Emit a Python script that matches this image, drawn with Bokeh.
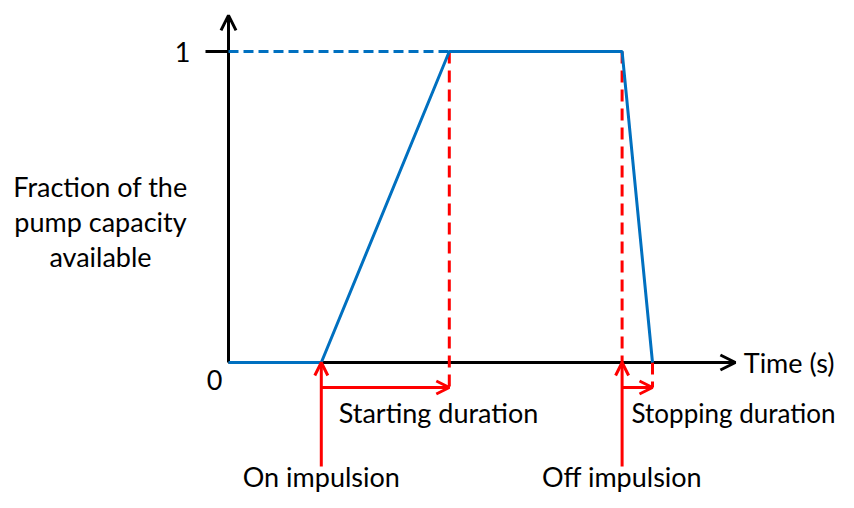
from bokeh.plotting import figure
from bokeh.models import Arrow, OpenHead, Label, Range1d
from bokeh.embed import file_html
from bokeh.resources import INLINE

# ---- data (time in s, fraction of pump capacity) ----
t_on = 2.9          # on impulsion
t_full = 6.9        # end of starting duration
t_off = 12.3        # off impulsion
t_stop = 13.25      # end of stopping duration
curve_t = [0.0, t_on, t_full, t_off, t_stop]
curve_f = [0, 0, 1, 1, 0]
y_tick_values = [0, 1]
y_tick_labels = ["0", "1"]
y_title = ["Fraction of the", "pump capacity", "available"]
x_title = "Time (s)"
duration_labels = ["Starting duration", "Stopping duration"]
event_labels = ["On impulsion", "Off impulsion"]
x_axis_end = 15.84
y_axis_end = 1.116

W, H = 838, 492
SX = 32.0      # px per second
SY = 311.0     # px per unit fraction
X0, Y0 = 228, 362   # origin position inside the canvas


def px_x(px):
    return (px - X0) / SX


def px_y(py):
    return (Y0 - py) / SY


p = figure(width=W, height=H, output_backend="svg", toolbar_location=None,
           x_range=Range1d(-X0 / SX, (W - X0) / SX),
           y_range=Range1d(-(H - Y0) / SY, Y0 / SY),
           min_border=0, outline_line_color=None)
p.axis.visible = False
p.grid.visible = False
p.background_fill_color = "white"

BLUE = "#0070C0"
RED = "#FF0000"
FONT = "Lato"
FS = "27px"

# axes with arrows (under the curve)
p.add_layout(Arrow(end=OpenHead(size=15, line_width=3, line_color="black"),
                   x_start=0, y_start=0, x_end=x_axis_end, y_end=0,
                   line_color="black", line_width=3, level="underlay"))
p.add_layout(Arrow(end=OpenHead(size=15, line_width=3, line_color="black"),
                   x_start=0, y_start=0, x_end=0, y_end=y_axis_end,
                   line_color="black", line_width=3, level="underlay"))
p.line([px_x(205), 0], [1, 1], line_color="black", line_width=3)

# red dashed verticals
p.line([t_full, t_full], [1, px_y(387)], line_color=RED, line_width=3, line_dash="12 7")
p.line([t_off, t_off], [1, 0], line_color=RED, line_width=3, line_dash="12 7")
p.line([t_stop, t_stop], [0, px_y(387)], line_color=RED, line_width=3, line_dash="12 7")

# dashed reference level at 1
p.line([0, t_full], [1, 1], line_color=BLUE, line_width=3, line_dash="10 5")

# capacity curve
p.line(curve_t[:2], curve_f[:2], line_color=BLUE, line_width=3)
p.line(curve_t[1:], curve_f[1:], line_color=BLUE, line_width=3)

# impulsion arrows
for t in (t_on, t_off):
    p.add_layout(Arrow(end=OpenHead(size=13, line_width=3, line_color=RED),
                       x_start=t, y_start=px_y(466), x_end=t, y_end=0,
                       line_color=RED, line_width=3))
# duration arrows
for a, b in ((t_on, t_full), (t_off, t_stop)):
    p.add_layout(Arrow(end=OpenHead(size=13, line_width=3, line_color=RED),
                       x_start=a, y_start=px_y(387), x_end=b, y_end=px_y(387),
                       line_color=RED, line_width=3))


def lab(text, x, y, align="center", fs=FS):
    p.add_layout(Label(x=x, y=y, text=text, text_font=FONT, text_font_size=fs,
                       text_color="black", text_align=align, text_baseline="middle"))


lab(y_tick_labels[0], px_x(214), px_y(379))
lab(y_tick_labels[1], px_x(182), y_tick_values[1])
for i, s in enumerate(y_title):
    lab(s, px_x(100), px_y(186 + 35 * i))
lab(x_title, px_x(834), 0, "right")
lab(duration_labels[0], px_x(438), px_y(412))
lab(duration_labels[1], px_x(835), px_y(412), "right", "26px")
lab(event_labels[0], t_on, px_y(476))
lab(event_labels[1], t_off, px_y(476))

open("out.html", "w").write(file_html(p, INLINE))
